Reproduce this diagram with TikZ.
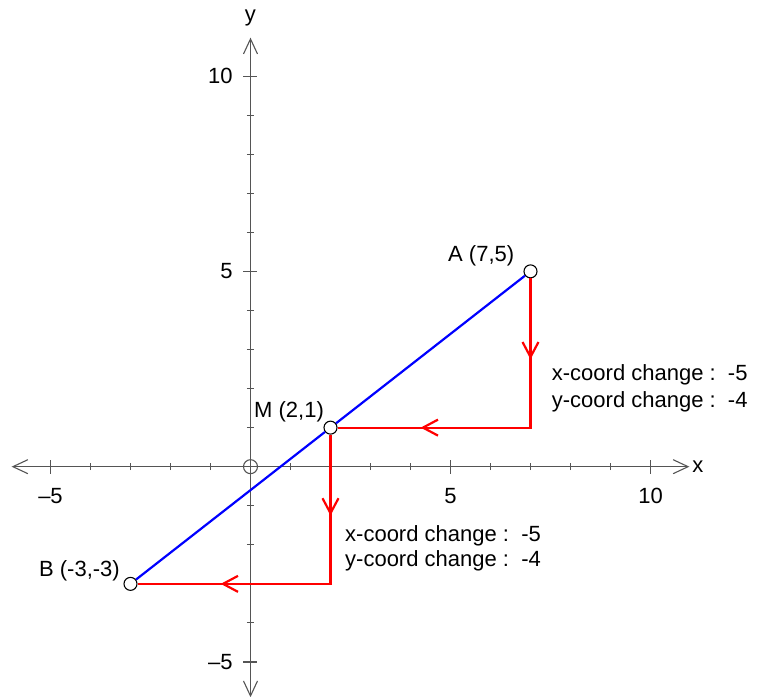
\documentclass[tikz,border=0pt]{standalone}
\usepackage{fontspec}
\setmainfont{Liberation Sans}
\usetikzlibrary{calc}
\definecolor{axisgray}{RGB}{85,85,85}
\definecolor{pureblue}{RGB}{0,0,255}
\definecolor{purered}{RGB}{255,0,0}
\begin{document}
\begin{tikzpicture}[x=40pt,y=39.06pt,
  font=\fontsize{22}{26}\selectfont,
  axisline/.style={draw=axisgray,line width=1.1pt},
  tickline/.style={draw=axisgray,line width=1.1pt},
  redline/.style={draw=purered,line width=2.2pt,line join=miter},
  blueline/.style={draw=pureblue,line width=2.2pt},
  ptc/.style={circle,draw=black,line width=1.1pt,fill=white,minimum size=13pt,inner sep=0pt},
  origc/.style={circle,draw=axisgray,line width=1.1pt,minimum size=14pt,inner sep=0pt},
  lbl/.style={inner sep=0pt,text=black}]
\useasboundingbox (-6.2625,-5.896) rectangle (12.8125,11.948);
% axes
\coordinate (xl) at (-5.94,0);
\coordinate (xr) at (10.94,0);
\coordinate (yb) at (0,-5.87);
\coordinate (yt) at (0,10.95);
\draw[axisline] (xl) -- (xr);
\draw[axisline] (yb) -- (yt);
\draw[axisline] ($(xr)+(-15pt,7pt)$) -- (xr) -- ($(xr)+(-15pt,-7pt)$);
\draw[axisline] ($(xl)+(15pt,7pt)$) -- (xl) -- ($(xl)+(15pt,-7pt)$);
\draw[axisline] ($(yt)+(-7pt,-15pt)$) -- (yt) -- ($(yt)+(7pt,-15pt)$);
\draw[axisline] ($(yb)+(-7pt,15pt)$) -- (yb) -- ($(yb)+(7pt,15pt)$);
% ticks
\foreach \i in {-4,-3,-2,-1,1,2,3,4,6,7,8,9} {
  \draw[tickline] ($(\i,0)+(0,-3.5pt)$) -- ($(\i,0)+(0,3.5pt)$);
  \draw[tickline] ($(0,\i)+(-3.5pt,0)$) -- ($(0,\i)+(3.5pt,0)$);
}
\foreach \i in {-5,5,10} {
  \draw[tickline] ($(\i,0)+(0,-7pt)$) -- ($(\i,0)+(0,7pt)$);
  \draw[tickline] ($(0,\i)+(-7pt,0)$) -- ($(0,\i)+(7pt,0)$);
}
\node[origc] (O) at (0,0) {};
% axis labels
\node[lbl,anchor=base] (lx5m) at (-5,-0.93) {\textendash5};
\node[lbl,anchor=base] (lx5) at (5,-0.93) {5};
\node[lbl,anchor=base] (lx10) at (10,-0.93) {10};
\node[lbl,anchor=east] (ly10) at (-0.44,10) {10};
\node[lbl,anchor=east] (ly5) at (-0.44,5) {5};
\node[lbl,anchor=east] (ly5m) at (-0.44,-5) {\textendash5};
\node[lbl,anchor=west] (xname) at (11.04,0) {x};
\node[lbl] (yname) at (0,11.49) {y};
% points
\node[ptc] (A) at (7,5) {};
\node[ptc] (M) at (2,1) {};
\node[ptc] (B) at (-3,-3) {};
\coordinate (C1) at (7,1);
\coordinate (C2) at (2,-3);
% red paths
\draw[redline] (A) -- (C1) -- (M);
\draw[redline] (M) -- (C2) -- (B);
\coordinate (m1) at (7,3);
\coordinate (m2) at (4.5,1);
\coordinate (m3) at (2,-1);
\coordinate (m4) at (-0.5,-3);
\draw[redline] ($(m1)+(-8pt,7.5pt)$) -- ($(m1)+(0,-7.5pt)$) -- ($(m1)+(8pt,7.5pt)$);
\draw[redline] ($(m3)+(-8pt,7.5pt)$) -- ($(m3)+(0,-7.5pt)$) -- ($(m3)+(8pt,7.5pt)$);
\draw[redline] ($(m2)+(7.5pt,8pt)$) -- ($(m2)+(-7.5pt,0)$) -- ($(m2)+(7.5pt,-8pt)$);
\draw[redline] ($(m4)+(7.5pt,8pt)$) -- ($(m4)+(-7.5pt,0)$) -- ($(m4)+(7.5pt,-8pt)$);
% blue segment
\draw[blueline] (B) -- (M);
\draw[blueline] (M) -- (A);
% point labels
\node[lbl,anchor=base west] (lA) at (4.9375,5.241) {A (7,5)};
\node[lbl,anchor=base west] (lM) at (0.0875,1.272) {M (2,1)};
\node[lbl,anchor=base east] (lB) at (-3.2625,-2.824) {B (-3,-3)};
% change texts
\node[lbl,anchor=base west] (t1a) at (7.53,2.194) {x-coord change :\ \ -5};
\node[lbl,anchor=base west] (t1b) at (7.53,1.528) {y-coord change :\ \ -4};
\node[lbl,anchor=base west] (t2a) at (2.3625,-1.92) {x-coord change :\ \ -5};
\node[lbl,anchor=base west] (t2b) at (2.3625,-2.56) {y-coord change :\ \ -4};
\end{tikzpicture}
\end{document}
